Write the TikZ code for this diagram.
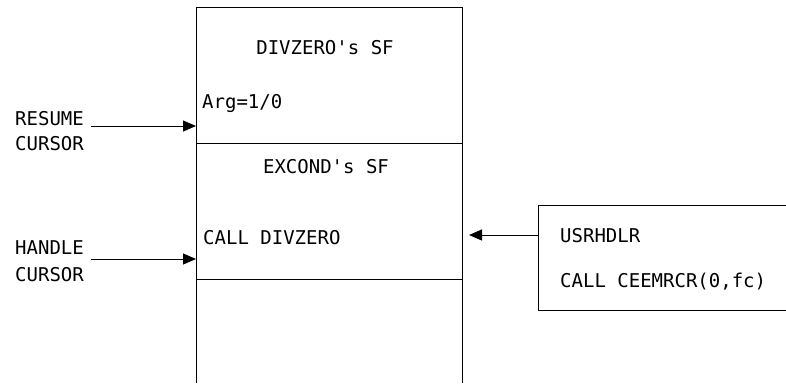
\documentclass[tikz,border=0pt]{standalone}
\usepackage{fontspec}
\newfontfamily\diagmono{DejaVu Sans Mono}
\usetikzlibrary{arrows.meta}
\tikzset{
  lbl/.style={font=\diagmono\fontsize{19}{22}\selectfont, inner sep=0pt, anchor=base west},
  clbl/.style={font=\diagmono\fontsize{19}{22}\selectfont, inner sep=0pt, anchor=base},
  frame/.style={line width=0.9pt, black},
  arr/.style={line width=0.9pt, -{Triangle[length=13pt,width=11pt]}}
}
\begin{document}
\begin{tikzpicture}[x=1pt,y=-1pt]
\useasboundingbox (0,0) rectangle (786,383);
% main stack
\draw[frame] (196,383) -- (196,7) -- (462,7) -- (462,383);
\draw[frame] (196,143) -- (462,143);
\draw[frame] (196,279) -- (462,279);
% right box (open to the right)
\draw[frame] (786,205) -- (538,205) -- (538,310) -- (786,310);
% texts
\node[clbl] (divsf) at (325,54) {DIVZERO's SF};
\node[lbl] (arg) at (202,108) {Arg=1/0};
\node[clbl] (exsf) at (326,173) {EXCOND's SF};
\node[lbl] (calldiv) at (203,244) {CALL DIVZERO};
\node[lbl] (resume) at (15,125) {RESUME};
\node[lbl] (cur1) at (15,150) {CURSOR};
\node[lbl] (handle) at (15,254) {HANDLE};
\node[lbl] (cur2) at (15,281) {CURSOR};
\node[lbl] (usr) at (560,242) {USRHDLR};
\node[lbl] (ceem) at (560,287) {CALL CEEMRCR(0,fc)};
% arrow endpoints
\coordinate (rs) at (91,126);
\coordinate (re) at (196,126);
\coordinate (hs) at (91,259);
\coordinate (he) at (196,259);
\coordinate (us) at (538,235);
\coordinate (ue) at (469,235);
\draw[arr] (rs) -- (re);
\draw[arr] (hs) -- (he);
\draw[arr] (us) -- (ue);
\end{tikzpicture}
\end{document}
